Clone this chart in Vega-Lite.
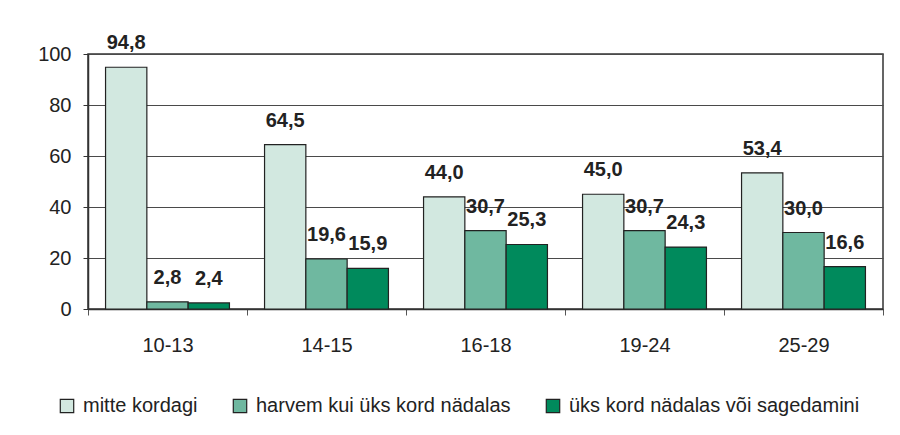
{
  "$schema": "https://vega.github.io/schema/vega-lite/v6.json",
  "autosize": {"type": "none"},
  "width": 795,
  "height": 255,
  "padding": {"left": 88, "top": 54, "right": 17, "bottom": 126},
  "background": "white",
  "config": {
    "font": "Liberation Sans",
    "locale": {"number": {"decimal": ",", "thousands": " ", "grouping": [3], "currency": ["", ""]}},
    "view": {"stroke": "#333", "strokeWidth": 1.5}
  },
  "data": {
    "values": [
      {"age": "10-13", "series": "mitte kordagi", "value": 94.8},
      {"age": "10-13", "series": "harvem kui üks kord nädalas", "value": 2.8},
      {"age": "10-13", "series": "üks kord nädalas või sagedamini", "value": 2.4},
      {"age": "14-15", "series": "mitte kordagi", "value": 64.5},
      {"age": "14-15", "series": "harvem kui üks kord nädalas", "value": 19.6},
      {"age": "14-15", "series": "üks kord nädalas või sagedamini", "value": 15.9},
      {"age": "16-18", "series": "mitte kordagi", "value": 44.0},
      {"age": "16-18", "series": "harvem kui üks kord nädalas", "value": 30.7},
      {"age": "16-18", "series": "üks kord nädalas või sagedamini", "value": 25.3},
      {"age": "19-24", "series": "mitte kordagi", "value": 45.0},
      {"age": "19-24", "series": "harvem kui üks kord nädalas", "value": 30.7},
      {"age": "19-24", "series": "üks kord nädalas või sagedamini", "value": 24.3},
      {"age": "25-29", "series": "mitte kordagi", "value": 53.4},
      {"age": "25-29", "series": "harvem kui üks kord nädalas", "value": 30.0},
      {"age": "25-29", "series": "üks kord nädalas või sagedamini", "value": 16.6}
    ]
  },
  "encoding": {
    "x": {
      "field": "age", "type": "nominal", "sort": null,
      "scale": {"paddingInner": 0, "paddingOuter": 0},
      "axis": {
        "title": null, "labelAngle": 0, "labelFontSize": 20, "labelColor": "#222",
        "labelPadding": 20, "tickBand": "extent", "tickSize": 6, "tickColor": "#555",
        "domainColor": "#333", "domainWidth": 1.5, "grid": false
      }
    },
    "xOffset": {
      "field": "series", "type": "nominal",
      "sort": ["mitte kordagi", "harvem kui üks kord nädalas", "üks kord nädalas või sagedamini"],
      "scale": {"paddingOuter": 0.425, "paddingInner": 0}
    },
    "y": {
      "field": "value", "type": "quantitative",
      "scale": {"domain": [0, 100], "nice": false},
      "axis": {
        "title": null, "values": [0, 20, 40, 60, 80, 100], "format": "d",
        "labelFontSize": 20, "labelColor": "#222", "labelPadding": 12,
        "tickSize": 5, "tickColor": "#333", "domainColor": "#333", "domainWidth": 1.5,
        "grid": true, "gridColor": "#4a4a4a", "gridWidth": 1, "gridOpacity": 1
      }
    }
  },
  "layer": [
    {
      "mark": {"type": "bar", "stroke": "#222", "strokeWidth": 1.2},
      "encoding": {
        "color": {
          "field": "series", "type": "nominal",
          "sort": ["mitte kordagi", "harvem kui üks kord nädalas", "üks kord nädalas või sagedamini"],
          "scale": {
            "domain": ["mitte kordagi", "harvem kui üks kord nädalas", "üks kord nädalas või sagedamini"],
            "range": ["#d2e8e0", "#6fb8a0", "#008a5c"]
          },
          "legend": {
            "title": null, "orient": "none", "direction": "horizontal",
            "legendX": -31, "legendY": 342, "padding": 0,
            "symbolType": "square", "symbolSize": 180, "symbolStrokeColor": "#222",
            "symbolStrokeWidth": 1.2, "symbolOpacity": 1,
            "labelFontSize": 20, "labelColor": "#222", "labelOffset": 6,
            "columnPadding": 32, "labelLimit": 500
          }
        }
      }
    },
    {
      "mark": {"type": "text", "dy": -18, "baseline": "alphabetic", "align": "center", "fontWeight": "bold", "fontSize": 20, "color": "#222"},
      "encoding": {
        "text": {"field": "value", "type": "quantitative", "format": ".1f"}
      }
    }
  ]
}
